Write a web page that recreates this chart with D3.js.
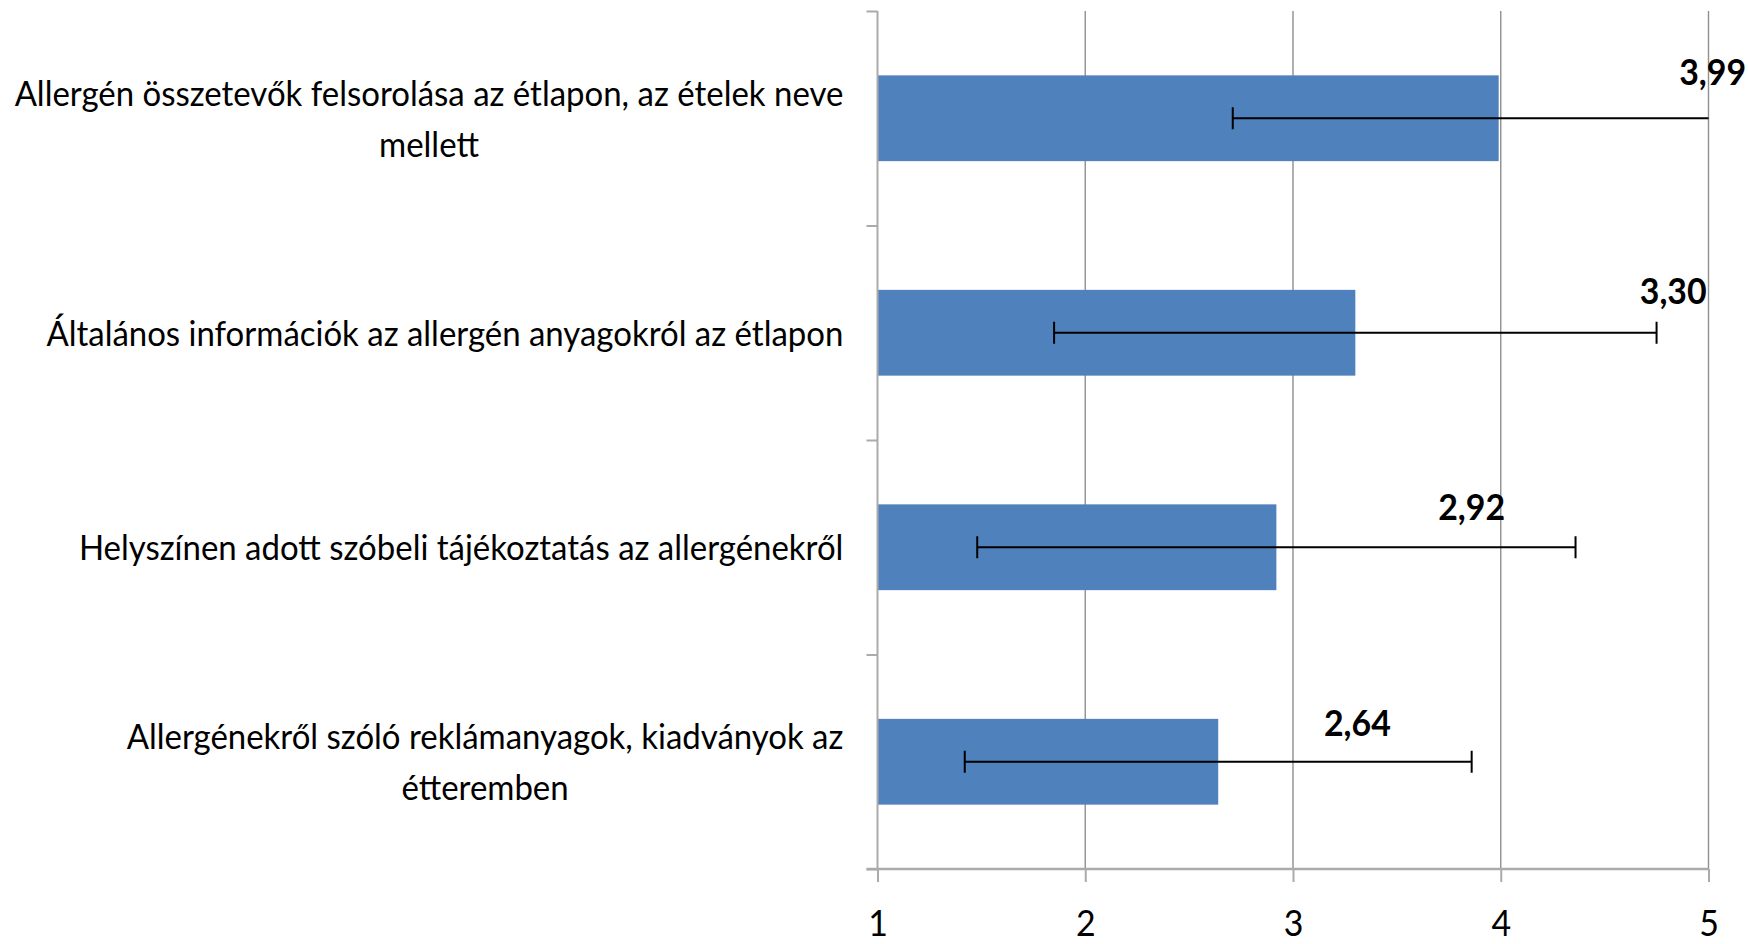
<!DOCTYPE html>
<html><head><meta charset="utf-8">
<script src="https://cdn.jsdelivr.net/npm/d3@7"></script>
<style>html,body{margin:0;padding:0;background:#fff}</style>
</head><body><svg id="chart" width="1748" height="944"></svg>
<script>
// ---- data ----
const categories = [
  "Allergén összetevők felsorolása az étlapon, az ételek neve\nmellett",
  "Általános információk az allergén anyagokról az étlapon",
  "Helyszínen adott szóbeli tájékoztatás az allergénekről",
  "Allergénekről szóló reklámanyagok, kiadványok az\nétteremben"
];
const means = [3.99, 3.30, 2.92, 2.64];
const sds = [1.28, 1.45, 1.44, 1.22];
const valueLabels = ["3,99", "3,30", "2,92", "2,64"];
const xTicks = [1, 2, 3, 4, 5];

// ---- layout ----
const W = 1748, H = 944;
const plot = {left: 877.5, right: 1708.5, top: 11, bottom: 869};
const labelCenterX = [5.02, 4.83, 3.86, 3.31];   // manual label positions (axis units)
const labelDy = [10, 14, 16, 17];                // baseline below bar top
const FONT = "Lato, 'Open Sans', sans-serif";
const catTargetWidth = 829;  // width of first label line in reference

const svg = d3.select("#chart");
svg.append("rect").attr("width", W).attr("height", H).attr("fill", "#fff");

const x = d3.scaleLinear().domain([1, 5]).range([plot.left, plot.right]);
const y = d3.scaleBand().domain(d3.range(categories.length))
  .range([plot.top, plot.bottom]).paddingInner(0.6).paddingOuter(0.3);
const yB = d3.scaleLinear().domain([0, categories.length]).range([plot.top, plot.bottom]);

// gridlines
svg.append("g").selectAll("line").data(xTicks.slice(1)).join("line")
  .attr("x1", d => x(d)).attr("x2", d => x(d))
  .attr("y1", plot.top).attr("y2", plot.bottom)
  .attr("stroke", "#8f8f8f").attr("stroke-width", 1.4);

// bars
svg.append("g").selectAll("rect").data(means).join("rect")
  .attr("x", x(1)).attr("y", (d, i) => y(i))
  .attr("width", d => x(d) - x(1)).attr("height", y.bandwidth())
  .attr("fill", "#4f81bd");

// left axis (ticks at category boundaries)
const gl = svg.append("g").attr("transform", `translate(${plot.left},0)`)
  .call(d3.axisLeft(yB).ticks(categories.length).tickSize(11).tickSizeOuter(0).tickFormat(""));
gl.select(".domain").remove();
gl.selectAll(".tick line").attr("stroke", "#ababab").attr("stroke-width", 2);
svg.append("line").attr("x1", plot.left).attr("x2", plot.left)
  .attr("y1", plot.top).attr("y2", plot.bottom)
  .attr("stroke", "#ababab").attr("stroke-width", 2);

// bottom axis
const gb = svg.append("g").attr("transform", `translate(0,${plot.bottom})`)
  .call(d3.axisBottom(x).tickValues(xTicks).tickSize(13).tickSizeOuter(0).tickFormat(d3.format("d")));
gb.select(".domain").remove();
gb.selectAll(".tick line").attr("stroke", "#ababab").attr("stroke-width", 2);
svg.append("line").attr("x1", plot.left - 11).attr("x2", plot.right)
  .attr("y1", plot.bottom).attr("y2", plot.bottom)
  .attr("stroke", "#ababab").attr("stroke-width", 2.5);

// error bars
const eb = svg.append("g").attr("stroke", "#000").attr("stroke-width", 2);
means.forEach((m, i) => {
  const cy = y(i) + y.bandwidth() / 2;
  const lo = m - sds[i], hi = m + sds[i];
  const loC = Math.max(1, lo), hiC = Math.min(5, hi);
  eb.append("line").attr("x1", x(loC)).attr("x2", x(hiC)).attr("y1", cy).attr("y2", cy);
  if (lo >= 1) eb.append("line").attr("x1", x(lo)).attr("x2", x(lo)).attr("y1", cy - 11).attr("y2", cy + 11);
  if (hi <= 5) eb.append("line").attr("x1", x(hi)).attr("x2", x(hi)).attr("y1", cy - 11).attr("y2", cy + 11);
});

// category labels: measure and compress horizontally
const probe = svg.append("text").attr("font-family", FONT).attr("font-size", 35)
  .text(categories[0].split("\n")[0]);
const sx = catTargetWidth / probe.node().getComputedTextLength();
probe.remove();

const labelRight = 843.5;
categories.forEach((c, i) => {
  const lines = c.split("\n");
  const cy = y(i) + y.bandwidth() / 2;
  const g = svg.append("g");
  const texts = lines.map((ln, k) => g.append("text")
    .attr("font-family", FONT).attr("font-size", 35).attr("fill", "#000")
    .attr("text-anchor", "middle").text(ln));
  const maxW = d3.max(texts, t => t.node().getComputedTextLength()) * sx;
  const cx = labelRight - maxW / 2;
  texts.forEach((t, k) => {
    const by = cy + 13 + (k - (lines.length - 1) / 2) * 51;
    t.attr("transform", `translate(${cx},${by}) scale(${sx},1)`);
  });
});

// tick labels
gb.selectAll(".tick text")
  .attr("font-family", FONT).attr("font-size", 36).attr("fill", "#000")
  .attr("y", 0).attr("dy", 0)
  .attr("transform", `translate(0,67) scale(${sx},1)`);

// value labels
svg.append("g").selectAll("text").data(valueLabels).join("text")
  .attr("font-family", FONT).attr("font-size", 36).attr("font-weight", "bold")
  .attr("fill", "#000").attr("text-anchor", "middle")
  .attr("transform", (d, i) => `translate(${x(labelCenterX[i])},${y(i) + labelDy[i]}) scale(${sx},1)`)
  .text(d => d);
</script>
</body></html>
